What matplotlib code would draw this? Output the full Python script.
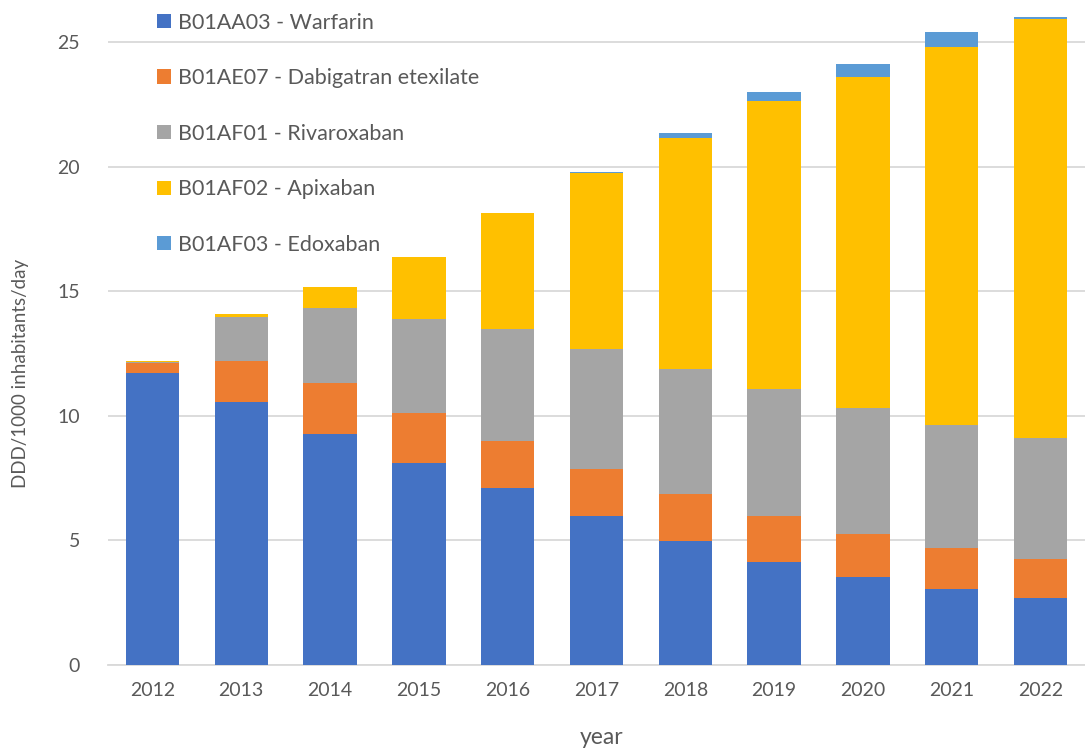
import numpy as np
import matplotlib
matplotlib.use("Agg")
import matplotlib.pyplot as plt

years = ["2012", "2013", "2014", "2015", "2016", "2017", "2018", "2019", "2020", "2021", "2022"]

warfarin = [11.71, 10.54, 9.28, 8.13, 7.11, 5.99, 4.96, 4.15, 3.53, 3.06, 2.68]
dabigatran = [0.40, 1.66, 2.05, 1.97, 1.89, 1.89, 1.90, 1.84, 1.74, 1.65, 1.56]
rivaroxaban = [0.06, 1.76, 3.00, 3.78, 4.48, 4.79, 5.02, 5.09, 5.04, 4.93, 4.87]
apixaban = [0.02, 0.12, 0.84, 2.49, 4.66, 7.07, 9.27, 11.55, 13.31, 15.16, 16.83]
edoxaban = [0.0, 0.0, 0.0, 0.0, 0.0, 0.04, 0.20, 0.37, 0.51, 0.61, 0.07]

series = [
    ("B01AA03 - Warfarin", warfarin, "#4472C4"),
    ("B01AE07 - Dabigatran etexilate", dabigatran, "#ED7D31"),
    ("B01AF01 - Rivaroxaban", rivaroxaban, "#A5A5A5"),
    ("B01AF02 - Apixaban", apixaban, "#FFC000"),
    ("B01AF03 - Edoxaban", edoxaban, "#5B9BD5"),
]

plt.rcParams['font.family'] = ['Lato', 'DejaVu Sans']
txt = "#595959"
W, H = 1085, 749

fig = plt.figure(figsize=(W / 100, H / 100), dpi=100)
ax = fig.add_axes([108 / W, 1 - 665 / H, 977 / W, 665 / H])

x = np.arange(len(years))
bottom = np.zeros(len(years))
for label, vals, col in series:
    ax.bar(x, vals, 0.6, bottom=bottom, color=col, label=label, zorder=3)
    bottom = bottom + np.array(vals)

ax.set_xlim(-0.5, len(years) - 0.5)
ax.set_ylim(0, 26.7)
ax.set_yticks([0, 5, 10, 15, 20, 25])
ax.set_xticks(x)
ax.set_xticklabels(years)
ax.yaxis.grid(True, color="#d9d9d9", linewidth=1.3, zorder=0)
for s in ["top", "right", "left"]:
    ax.spines[s].set_visible(False)
ax.spines["bottom"].set_color("#d9d9d9")
ax.spines["bottom"].set_linewidth(1.3)
ax.tick_params(axis="both", length=0, labelsize=14, colors=txt)
ax.tick_params(axis="x", pad=12)
ax.tick_params(axis="y", pad=20)

# axis titles placed where they sit in the reference
fig.text(21 / W, 1 - 373 / H, "DDD/1000 inhabitants/day", rotation=90,
         ha="center", va="center", fontsize=13.5, color=txt)
fig.text(602 / W, 1 - 737 / H, "year", ha="center", va="center",
         fontsize=16.5, color=txt)

leg = ax.legend(loc="upper left", bbox_to_anchor=(0.03, 1.01), frameon=False,
                fontsize=15.5, labelspacing=1.65, handlelength=0.65, handleheight=0.65,
                handletextpad=0.35)
for t in leg.get_texts():
    t.set_color(txt)

fig.savefig("out.png", dpi=100)
